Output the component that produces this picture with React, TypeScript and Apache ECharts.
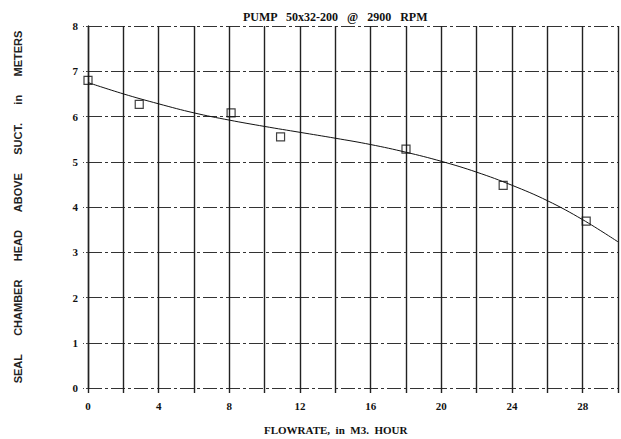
import React, { useEffect, useRef } from "react";
import * as echarts from "echarts";

const titleText = "PUMP   50x32-200   @   2900   RPM";
const xAxisName = "FLOWRATE,  in  M3.  HOUR";
const yAxisName = "SEAL      CHAMBER      HEAD      ABOVE      SUCT.      in      METERS";

// measured test points (flowrate m3/h, head m)
const pointFlow = [0, 2.9, 8.1, 10.9, 18.0, 23.5, 28.2];
const pointHead = [6.8, 6.27, 6.08, 5.55, 5.28, 4.48, 3.69];

// fitted curve
const curveFlow = [0, 2, 4, 6, 8, 10, 12, 14, 16, 18, 20, 22, 24, 26, 28, 30];
const curveHead = [6.75, 6.5, 6.28, 6.08, 5.92, 5.78, 5.65, 5.52, 5.38, 5.21, 5.01, 4.77, 4.48, 4.14, 3.72, 3.23];

const xMin = 0, xMax = 30, xStep = 2, xLabelStep = 4;
const yMin = 0, yMax = 8, yStep = 1;

export default function App() {
  const ref = useRef<HTMLDivElement>(null);
  useEffect(() => {
    if (!ref.current) return;
    const chart = echarts.init(ref.current, null, { renderer: "svg" });
    const serif = "Liberation Serif";
    chart.setOption({
      animation: false,
      backgroundColor: "#ffffff",
      title: [
        {
          text: titleText,
          left: 238,
          top: 6,
          textStyle: { fontFamily: serif, fontWeight: "bold", fontSize: 12, color: "#111" },
        },
        {
          text: xAxisName,
          left: 259,
          top: 419,
          textStyle: { fontFamily: serif, fontWeight: "bold", fontSize: 11, color: "#111" },
        },
      ],
      grid: { left: 88, right: 2, top: 26, bottom: 51, containLabel: false },
      xAxis: {
        type: "value",
        min: xMin,
        max: xMax,
        interval: xStep,
        axisLine: { show: false },
        axisTick: { show: true, length: 5, lineStyle: { color: "#222", width: 1.4 } },
        axisLabel: {
          margin: 12,
          fontFamily: serif,
          fontWeight: "bold",
          fontSize: 11,
          color: "#111",
          formatter: (v: number) => (v % xLabelStep === 0 && v < xMax ? String(v) : ""),
        },
        splitLine: { show: true, lineStyle: { color: "#222", width: 1.4, type: "solid" } },
      },
      yAxis: {
        type: "value",
        min: yMin,
        max: yMax,
        interval: yStep,
        name: yAxisName,
        nameLocation: "middle",
        nameGap: 65,
        nameTextStyle: { fontFamily: "Liberation Sans", fontWeight: "bold", fontSize: 11, color: "#222" },
        axisLine: { show: true, lineStyle: { color: "#222", width: 1.4 } },
        axisTick: { show: true, length: 5, lineStyle: { color: "#444", width: 1, type: [2, 2] } },
        axisLabel: { margin: 10, fontFamily: serif, fontWeight: "bold", fontSize: 11, color: "#111" },
        splitLine: { show: true, lineStyle: { color: "#333", width: 1.2, type: [14, 3, 3, 3] } },
      },
      series: [
        {
          type: "line",
          data: curveFlow.map((x, i) => [x, curveHead[i]]),
          smooth: 0.4,
          showSymbol: false,
          lineStyle: { color: "#111", width: 1 },
        },
        {
          type: "scatter",
          data: pointFlow.map((x, i) => [x, pointHead[i]]),
          symbol: "rect",
          symbolSize: 8,
          itemStyle: { color: "rgba(255,255,255,0)", borderColor: "#111", borderWidth: 1.2 },
        },
      ],
    });
    return () => chart.dispose();
  }, []);
  return <div ref={ref} style={{ position: "fixed", left: 0, top: 0, width: 621, height: 439 }} />;
}
